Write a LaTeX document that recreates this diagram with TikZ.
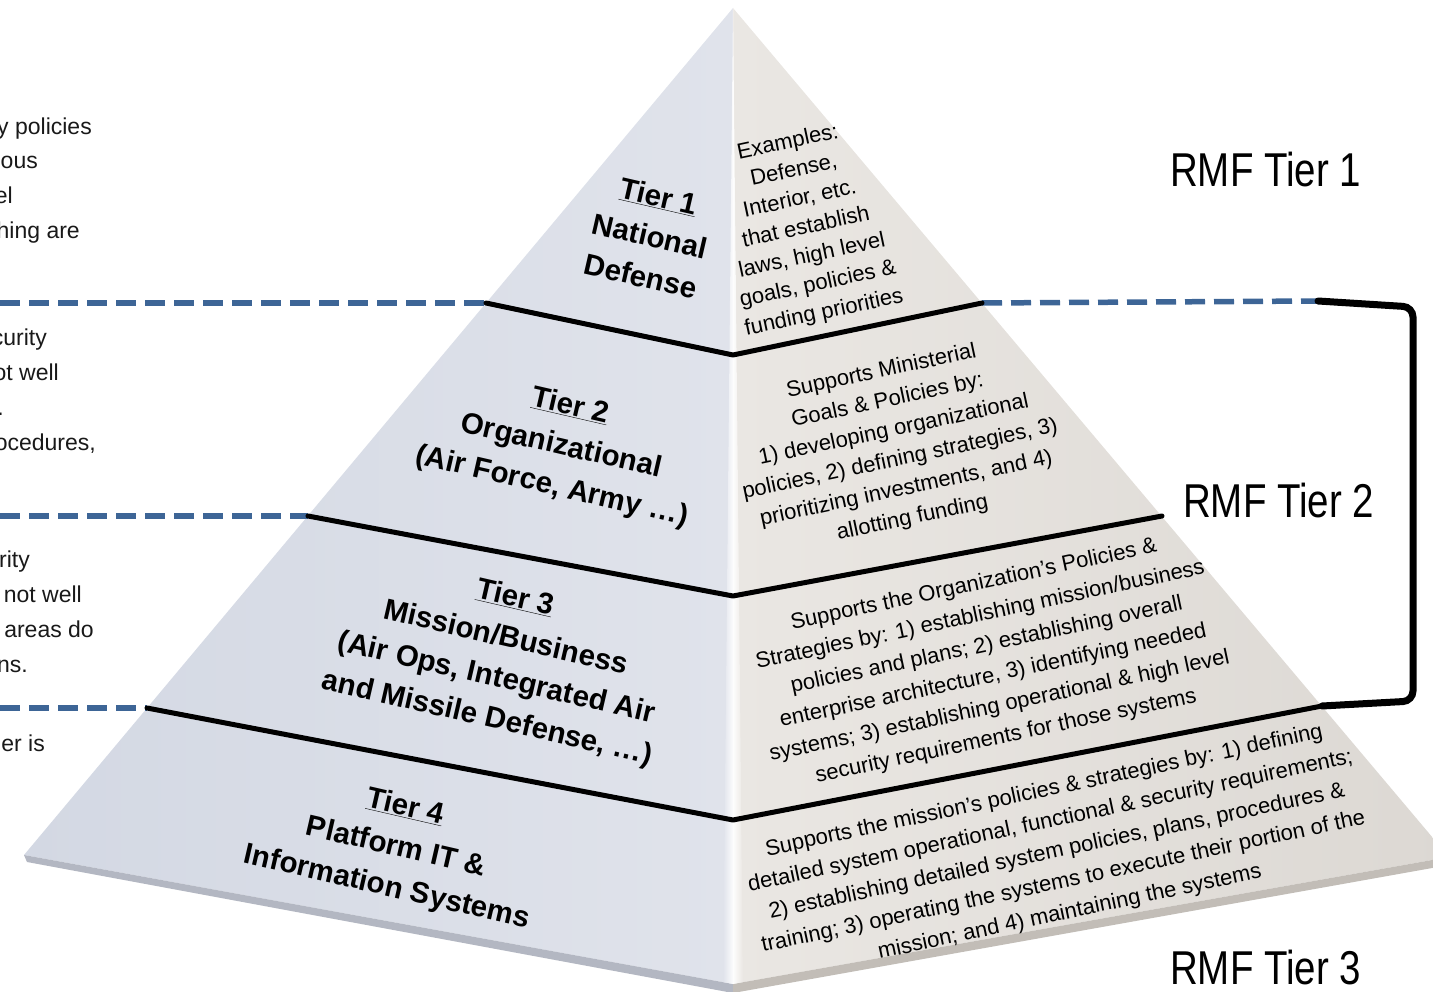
\documentclass[tikz,border=0pt]{standalone}
\usepackage{fontspec}
\setmainfont{Liberation Sans}
\newfontfamily\rmffont[FakeStretch=0.81]{Liberation Sans}
\definecolor{guideblue}{HTML}{3D6596}
\definecolor{leftface}{HTML}{D3D8E3}
\definecolor{leftfacelight}{HTML}{E0E3EB}
\definecolor{rightface}{HTML}{EAE7E3}
\definecolor{rightfacedark}{HTML}{DCD8D3}
\definecolor{rimleft}{HTML}{B3B7C2}
\definecolor{rimright}{HTML}{C2BDB7}
\begin{document}
\begin{tikzpicture}[x=1pt,y=-1pt,
  tierline/.style={line width=5pt, line cap=round, line join=round},
  guide/.style={draw=guideblue, line width=5.5pt, dash pattern=on 20pt off 9pt},
  bracketline/.style={line width=7pt, rounded corners=10pt, line cap=round},
  sidenote/.style={anchor=base east, font=\fontsize{23}{28}\selectfont, text=black!90, inner sep=0pt},
  tierlabel/.style={font=\bfseries\fontsize{29.5}{41}\selectfont, align=center, rotate=-13, inner sep=0pt},
  facenote/.style={font=\fontsize{22}{30}\selectfont, align=center, rotate=12, inner sep=0pt},
  rmf/.style={font=\rmffont\fontsize{47.5}{50}\selectfont, anchor=base west, inner sep=0pt},
]
\useasboundingbox (0,0) rectangle (1433,992);

% pyramid corners
\coordinate (apex) at (733,8);
\coordinate (lc) at (24,855);
\coordinate (fb) at (733,984);
\coordinate (rc) at (1449,857);
\coordinate (lcb) at (27,862);
\coordinate (fbb) at (733,993);
\coordinate (rcb) at (1449,865);

% faces
\shade[left color=leftface, right color=leftfacelight] (apex) -- (lc) -- (fb) -- cycle;
\shade[left color=rightface, right color=rightfacedark] (apex) -- (fb) -- (rc) -- cycle;
% base rim
\fill[rimleft] (lc) -- (fb) -- (fbb) -- (lcb) -- cycle;
\fill[rimright] (fb) -- (rc) -- (rcb) -- (fbb) -- cycle;
% highlight along the front ridge
\shade[left color=leftfacelight, right color=white!92!leftface] (apex) -- (fb) -- (723,982) -- cycle;
\shade[left color=white!92!rightface, right color=rightface] (apex) -- (743,982) -- (fb) -- cycle;

% tier boundaries
\coordinate (t1l) at (486,303);
\coordinate (t1f) at (733,355);
\coordinate (t1r) at (982,303);
\coordinate (t2l) at (308,516);
\coordinate (t2f) at (733,596);
\coordinate (t2r) at (1162,516);
\coordinate (t3l) at (147,708);
\coordinate (t3f) at (733,820);
\coordinate (t3r) at (1322,706);

% dashed guides out to the left margin
\coordinate (g1) at (0,303);
\coordinate (g2) at (0,516);
\coordinate (g3) at (0,708);
\draw[guide] (g1) -- (t1l);
\draw[guide] (g2) -- (t2l);
\draw[guide] (g3) -- (t3l);

% dashed guide and bracket on the right
\coordinate (b1) at (1318,301);
\coordinate (b2) at (1413,307);
\coordinate (b3) at (1413,701);
\draw[guide] (t1r) -- (b1);
\draw[bracketline] (b1) -- (b2) -- (b3) -- (t3r);

\draw[tierline] (t1l) -- (t1f) -- (t1r);
\draw[tierline] (t2l) -- (t2f) -- (t2r);
\draw[tierline] (t3l) -- (t3f) -- (t3r);

% tier names on the left face
\node[tierlabel] (lab1) at (650,236) {\underline{Tier 1}\\National\\Defense};
\node[tierlabel] (lab2) at (561,447) {\underline{Tier 2}\\Organizational\\(Air Force, Army …)};
\node[tierlabel] (lab3) at (501,659) {\underline{Tier 3}\\Mission/Business\\(Air Ops, Integrated Air\\and Missile Defense, …)};
\node[tierlabel] (lab4) at (396,848) {\underline{Tier 4}\\Platform IT \&\\Information Systems};

% descriptions on the right face
\node[facenote, font=\fontsize{22}{29}\selectfont] (note1) at (806,228) {Examples:\\Defense,\\Interior, etc.\\that establish\\laws, high level\\goals, policies \&\\funding priorities};
\node[facenote] (note2) at (897,445) {Supports Ministerial\\Goals \& Policies by:\\1) developing organizational\\policies, 2) defining strategies, 3)\\prioritizing investments, and 4)\\allotting funding};
\node[facenote, font=\fontsize{22}{31}\selectfont] (note3) at (990,661) {Supports the Organization’s Policies \&\\Strategies by: 1) establishing mission/business\\policies and plans; 2) establishing overall\\enterprise architecture, 3) identifying needed\\systems; 3) establishing operational \& high level\\security requirements for those systems};
\node[facenote, font=\fontsize{22}{31}\selectfont] (note4) at (1057,852) {Supports the mission’s policies \& strategies by: 1) defining\\detailed system operational, functional \& security requirements;\\2) establishing detailed system policies, plans, procedures \&\\training; 3) operating the systems to execute their portion of the\\mission; and 4) maintaining the systems};

% RMF tier labels
\node[rmf] (rmf1) at (1170,187) {RMF Tier 1};
\node[rmf] (rmf2) at (1183,517) {RMF Tier 2};
\node[rmf] (rmf3) at (1170,984) {RMF Tier 3};

% notes running in from the left margin
\node[sidenote] (s1a) at (92,135) {y policies};
\node[sidenote] (s1b) at (38,169) {ous};
\node[sidenote] (s1c) at (13,204) {el};
\node[sidenote] (s1d) at (80,239) {hing are};
\node[sidenote] (s2a) at (47,346) {curity};
\node[sidenote] (s2b) at (59,381) {ot well};
\node[sidenote] (s2c) at (4,415) {.};
\node[sidenote] (s2d) at (96,450) {ocedures,};
\node[sidenote] (s3a) at (30,567) {rity};
\node[sidenote] (s3b) at (82,602) {not well};
\node[sidenote] (s3c) at (94,637) {areas do};
\node[sidenote] (s3d) at (28,672) {ns.};
\node[sidenote] (s4a) at (45,751) {er is};
\end{tikzpicture}
\end{document}
